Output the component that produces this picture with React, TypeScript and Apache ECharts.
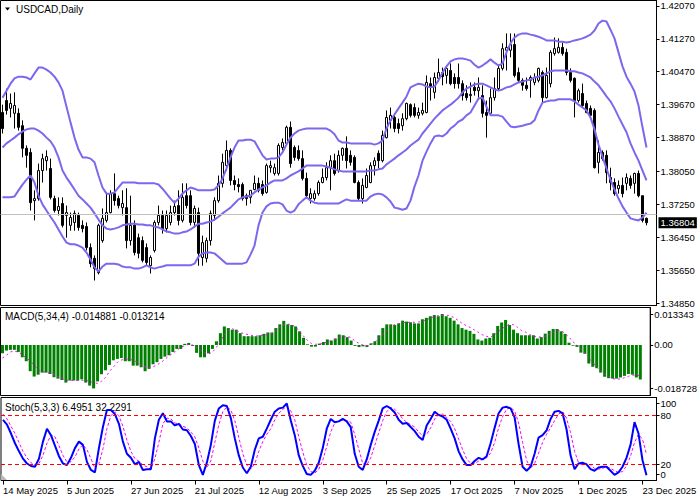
import React, { useEffect, useRef } from 'react';
import * as echarts from 'echarts';

const tickLabels = ['14 May 2025', '5 Jun 2025', '27 Jun 2025', '21 Jul 2025', '12 Aug 2025', '3 Sep 2025', '25 Sep 2025', '17 Oct 2025', '7 Nov 2025', '1 Dec 2025', '23 Dec 2025'];
const priceTicks = [1.4207, 1.4127, 1.4047, 1.3967, 1.3887, 1.3805, 1.3725, 1.3645, 1.3565, 1.3485];
const macdTicks = [0.013343, 0, -0.018728];
const stochTickPos = [95, 80, 20];
const stochZeroPos = [8];
const stochTickText: Record<number, string> = { 95: '100', 80: '80', 20: '20', 8: '0' };
const lastPrice = 1.36804;

const opens = [
  1.3948, 1.3977, 1.3958, 1.3946, 1.3946, 1.3916, 1.3861, 1.3851, 1.3734, 1.3739,
  1.3807, 1.3831, 1.3812, 1.3739, 1.3710, 1.3727, 1.3698, 1.3674, 1.3681, 1.3698,
  1.3674, 1.3671, 1.3620, 1.3594, 1.3559, 1.3637, 1.3686, 1.3705, 1.3751, 1.3739,
  1.3717, 1.3717, 1.3637, 1.3674, 1.3644, 1.3637, 1.3620, 1.3576, 1.3613, 1.3681,
  1.3698, 1.3666, 1.3681, 1.3705, 1.3722, 1.3686, 1.3746, 1.3746, 1.3681, 1.3705,
  1.3596, 1.3594, 1.3637, 1.3698, 1.3734, 1.3776, 1.3819, 1.3856, 1.3783, 1.3773,
  1.3773, 1.3746, 1.3742, 1.3761, 1.3776, 1.3773, 1.3754, 1.3814, 1.3800, 1.3800,
  1.3863, 1.3873, 1.3912, 1.3863, 1.3856, 1.3836, 1.3788, 1.3739, 1.3739, 1.3751,
  1.3778, 1.3790, 1.3814, 1.3831, 1.3807, 1.3844, 1.3861, 1.3844, 1.3839, 1.3778,
  1.3739, 1.3766, 1.3778, 1.3819, 1.3849, 1.3831, 1.3887, 1.3929, 1.3936, 1.3921,
  1.3916, 1.3933, 1.3967, 1.3960, 1.3941, 1.3946, 1.3948, 1.4018, 1.3997, 1.4031,
  1.4045, 1.4038, 1.4050, 1.4033, 1.4033, 1.4018, 1.3994, 1.3989, 1.4009, 1.4001,
  1.3989, 1.3948, 1.3946, 1.3984, 1.4006, 1.4055, 1.4099, 1.4099, 1.4113, 1.4045,
  1.4026, 1.4014, 1.4026, 1.4021, 1.4026, 1.4045, 1.3984, 1.4018, 1.4091, 1.4094,
  1.4106, 1.4094, 1.4045, 1.4031, 1.3977, 1.3994, 1.3970, 1.3958, 1.3953, 1.3827,
  1.3851, 1.3844, 1.3790, 1.3778, 1.3763, 1.3771, 1.3776, 1.3788, 1.3776, 1.3800,
  1.3746, 1.3691,
];
const closes = [
  1.3909, 1.3953, 1.3970, 1.3965, 1.3912, 1.3861, 1.3844, 1.3729, 1.3739, 1.3807,
  1.3836, 1.3841, 1.3742, 1.3710, 1.3720, 1.3674, 1.3705, 1.3693, 1.3703, 1.3669,
  1.3666, 1.3620, 1.3581, 1.3569, 1.3674, 1.3691, 1.3705, 1.3751, 1.3734, 1.3722,
  1.3727, 1.3637, 1.3674, 1.3608, 1.3606, 1.3589, 1.3584, 1.3596, 1.3681, 1.3698,
  1.3666, 1.3698, 1.3705, 1.3720, 1.3686, 1.3742, 1.3722, 1.3681, 1.3715, 1.3606,
  1.3632, 1.3637, 1.3703, 1.3734, 1.3776, 1.3827, 1.3856, 1.3783, 1.3773, 1.3768,
  1.3739, 1.3739, 1.3759, 1.3776, 1.3759, 1.3751, 1.3819, 1.3819, 1.3814, 1.3868,
  1.3875, 1.3912, 1.3824, 1.3839, 1.3836, 1.3788, 1.3746, 1.3751, 1.3751, 1.3778,
  1.3790, 1.3814, 1.3831, 1.3800, 1.3844, 1.3861, 1.3831, 1.3827, 1.3778, 1.3739,
  1.3771, 1.3795, 1.3819, 1.3831, 1.3831, 1.3892, 1.3936, 1.3941, 1.3909, 1.3909,
  1.3933, 1.3970, 1.3941, 1.3941, 1.3948, 1.3953, 1.4021, 1.4009, 1.4033, 1.4045,
  1.4035, 1.4055, 1.4018, 1.4018, 1.4018, 1.3989, 1.3984, 1.3992, 1.4001, 1.4009,
  1.3946, 1.3941, 1.3984, 1.4006, 1.4055, 1.4103, 1.4106, 1.4113, 1.4038, 1.4026,
  1.4014, 1.4006, 1.4033, 1.4033, 1.4055, 1.3984, 1.4038, 1.4094, 1.4103, 1.4106,
  1.4091, 1.4045, 1.4026, 1.3977, 1.4001, 1.3965, 1.3948, 1.3941, 1.3814, 1.3851,
  1.3836, 1.3802, 1.3778, 1.3751, 1.3771, 1.3751, 1.3790, 1.3771, 1.3800, 1.3746,
  1.3686, 1.36804,
];
const lows = [
  1.3897, 1.3943, 1.3936, 1.3909, 1.3904, 1.3839, 1.3814, 1.3710, 1.3686, 1.3734,
  1.3778, 1.3807, 1.3737, 1.3705, 1.3698, 1.3669, 1.3644, 1.3661, 1.3661, 1.3661,
  1.3657, 1.3613, 1.3572, 1.3540, 1.3555, 1.3632, 1.3681, 1.3703, 1.3722, 1.3715,
  1.3698, 1.3618, 1.3625, 1.3601, 1.3594, 1.3584, 1.3576, 1.3557, 1.3608, 1.3674,
  1.3654, 1.3657, 1.3674, 1.3698, 1.3674, 1.3681, 1.3715, 1.3674, 1.3669, 1.3576,
  1.3576, 1.3584, 1.3625, 1.3686, 1.3729, 1.3766, 1.3807, 1.3771, 1.3759, 1.3754,
  1.3734, 1.3722, 1.3727, 1.3759, 1.3754, 1.3746, 1.3751, 1.3802, 1.3795, 1.3795,
  1.3856, 1.3868, 1.3814, 1.3831, 1.3831, 1.3783, 1.3742, 1.3727, 1.3734, 1.3746,
  1.3776, 1.3783, 1.3759, 1.3795, 1.3802, 1.3831, 1.3812, 1.3819, 1.3776, 1.3734,
  1.3727, 1.3764, 1.3776, 1.3795, 1.3812, 1.3827, 1.3885, 1.3909, 1.3900, 1.3897,
  1.3904, 1.3929, 1.3936, 1.3936, 1.3933, 1.3941, 1.3946, 1.3977, 1.3982, 1.4026,
  1.4014, 1.4018, 1.4014, 1.4006, 1.4006, 1.3977, 1.3977, 1.3972, 1.3989, 1.3984,
  1.3936, 1.3887, 1.3941, 1.3977, 1.4001, 1.4050, 1.4050, 1.4082, 1.4033, 1.4021,
  1.4001, 1.4001, 1.3984, 1.4014, 1.4021, 1.3972, 1.3982, 1.4009, 1.4086, 1.4091,
  1.4086, 1.4038, 1.4021, 1.3936, 1.3972, 1.3960, 1.3946, 1.3933, 1.3812, 1.3800,
  1.3831, 1.3776, 1.3759, 1.3746, 1.3751, 1.3742, 1.3759, 1.3763, 1.3751, 1.3742,
  1.3681, 1.3674,
];
const highs = [
  1.3967, 1.4006, 1.3994, 1.3997, 1.3958, 1.3929, 1.3868, 1.3861, 1.3759, 1.3824,
  1.3848, 1.3856, 1.3836, 1.3746, 1.3742, 1.3742, 1.3722, 1.3705, 1.3710, 1.3705,
  1.3686, 1.3681, 1.3630, 1.3601, 1.3678, 1.3715, 1.3751, 1.3759, 1.3800, 1.3746,
  1.3759, 1.3764, 1.3746, 1.3686, 1.3654, 1.3647, 1.3630, 1.3601, 1.3686, 1.3722,
  1.3710, 1.3710, 1.3722, 1.3734, 1.3759, 1.3776, 1.3776, 1.3759, 1.3722, 1.3717,
  1.3649, 1.3644, 1.3710, 1.3742, 1.3795, 1.3848, 1.3880, 1.3861, 1.3795, 1.3788,
  1.3778, 1.3751, 1.3759, 1.3795, 1.3790, 1.3783, 1.3824, 1.3831, 1.3824, 1.3873,
  1.3885, 1.3916, 1.3926, 1.3868, 1.3868, 1.3856, 1.3802, 1.3764, 1.3759, 1.3783,
  1.3812, 1.3827, 1.3844, 1.3848, 1.3856, 1.3863, 1.3890, 1.3856, 1.3844, 1.3783,
  1.3788, 1.3812, 1.3827, 1.3839, 1.3856, 1.3904, 1.3953, 1.3960, 1.3946, 1.3933,
  1.3946, 1.3972, 1.3970, 1.3970, 1.3960, 1.3972, 1.4038, 1.4033, 1.4045, 1.4079,
  1.4057, 1.4062, 1.4067, 1.4043, 1.4067, 1.4026, 1.4014, 1.4021, 1.4021, 1.4033,
  1.4014, 1.3977, 1.4006, 1.4033, 1.4062, 1.4116, 1.4140, 1.4140, 1.4140, 1.4057,
  1.4031, 1.4033, 1.4038, 1.4043, 1.4057, 1.4050, 1.4057, 1.4099, 1.4130, 1.4128,
  1.4118, 1.4103, 1.4055, 1.4033, 1.4006, 1.4018, 1.3977, 1.3965, 1.3958, 1.3880,
  1.3856, 1.3856, 1.3814, 1.3788, 1.3783, 1.3790, 1.3800, 1.3795, 1.3802, 1.3807,
  1.3746, 1.3693,
];

const bbUpper = [
  1.3984, 1.4001, 1.4018, 1.4031, 1.4035, 1.4035, 1.4033, 1.4028, 1.4043, 1.4057,
  1.4057, 1.4052, 1.4045, 1.4035, 1.4021, 1.4001, 1.3962, 1.3924, 1.3887, 1.3858,
  1.3839, 1.3839, 1.3836, 1.3827, 1.3795, 1.3766, 1.3751, 1.3751, 1.3754, 1.3766,
  1.3778, 1.3778, 1.3778, 1.3778, 1.3776, 1.3776, 1.3776, 1.3776, 1.3776, 1.3773,
  1.3763, 1.3751, 1.3739, 1.3729, 1.3739, 1.3751, 1.3759, 1.3766, 1.3763, 1.3759,
  1.3759, 1.3759, 1.3759, 1.3761, 1.3771, 1.3788, 1.3812, 1.3839, 1.3863, 1.3880,
  1.3880, 1.3882, 1.3882, 1.3878, 1.3861, 1.3844, 1.3834, 1.3836, 1.3836, 1.3839,
  1.3851, 1.3870, 1.3887, 1.3897, 1.3904, 1.3907, 1.3909, 1.3909, 1.3909, 1.3909,
  1.3909, 1.3909, 1.3904, 1.3895, 1.3880, 1.3875, 1.3875, 1.3873, 1.3873, 1.3873,
  1.3873, 1.3873, 1.3873, 1.3870, 1.3873, 1.3880, 1.3909, 1.3929, 1.3943, 1.3958,
  1.3972, 1.3987, 1.4009, 1.4014, 1.4018, 1.4016, 1.4011, 1.4009, 1.4011, 1.4026,
  1.4045, 1.4060, 1.4072, 1.4077, 1.4079, 1.4079, 1.4077, 1.4074, 1.4064, 1.4057,
  1.4062, 1.4069, 1.4077, 1.4069, 1.4062, 1.4067, 1.4094, 1.4116, 1.4130, 1.4137,
  1.4140, 1.4140, 1.4137, 1.4135, 1.4132, 1.4128, 1.4123, 1.4123, 1.4123, 1.4120,
  1.4120, 1.4118, 1.4120, 1.4123, 1.4125, 1.4128, 1.4132, 1.4137, 1.4147, 1.4164,
  1.4171, 1.4169, 1.4149, 1.4128, 1.4094, 1.4060, 1.4035, 1.4018, 1.3999, 1.3965,
  1.3912, 1.3863,
];
const bbMiddle = [
  1.3863, 1.3873, 1.3880, 1.3887, 1.3895, 1.3902, 1.3907, 1.3909, 1.3909, 1.3904,
  1.3897, 1.3887, 1.3878, 1.3863, 1.3839, 1.3807, 1.3790, 1.3776, 1.3761, 1.3746,
  1.3737, 1.3727, 1.3717, 1.3703, 1.3688, 1.3674, 1.3666, 1.3664, 1.3666, 1.3669,
  1.3674, 1.3676, 1.3678, 1.3678, 1.3676, 1.3676, 1.3674, 1.3674, 1.3671, 1.3669,
  1.3664, 1.3659, 1.3657, 1.3654, 1.3654, 1.3657, 1.3659, 1.3664, 1.3671, 1.3678,
  1.3678, 1.3681, 1.3683, 1.3688, 1.3695, 1.3703, 1.3710, 1.3717, 1.3727, 1.3737,
  1.3742, 1.3744, 1.3746, 1.3754, 1.3761, 1.3766, 1.3771, 1.3778, 1.3783, 1.3783,
  1.3783, 1.3788, 1.3795, 1.3800, 1.3805, 1.3812, 1.3819, 1.3819, 1.3819, 1.3819,
  1.3819, 1.3817, 1.3814, 1.3810, 1.3807, 1.3805, 1.3805, 1.3805, 1.3805, 1.3805,
  1.3805, 1.3805, 1.3807, 1.3807, 1.3810, 1.3812, 1.3822, 1.3829, 1.3836, 1.3844,
  1.3851, 1.3858, 1.3868, 1.3875, 1.3882, 1.3897, 1.3909, 1.3921, 1.3933, 1.3943,
  1.3953, 1.3960, 1.3967, 1.3975, 1.3984, 1.3997, 1.4006, 1.4011, 1.4016, 1.4018,
  1.4018, 1.4014, 1.4009, 1.4004, 1.4001, 1.4004, 1.4009, 1.4011, 1.4016, 1.4021,
  1.4023, 1.4026, 1.4028, 1.4033, 1.4035, 1.4038, 1.4043, 1.4048, 1.4050, 1.4050,
  1.4050, 1.4050, 1.4048, 1.4048, 1.4045, 1.4043, 1.4038, 1.4033, 1.4023, 1.4014,
  1.4001, 1.3987, 1.3975, 1.3958, 1.3938, 1.3919, 1.3900, 1.3873, 1.3851, 1.3831,
  1.3807, 1.3783,
];
const bbLower = [
  1.3742, 1.3742, 1.3742, 1.3744, 1.3759, 1.3773, 1.3785, 1.3795, 1.3778, 1.3746,
  1.3725, 1.3710, 1.3695, 1.3681, 1.3664, 1.3647, 1.3632, 1.3628, 1.3628, 1.3625,
  1.3620, 1.3608, 1.3591, 1.3572, 1.3562, 1.3574, 1.3581, 1.3581, 1.3581, 1.3579,
  1.3574, 1.3572, 1.3572, 1.3569, 1.3569, 1.3572, 1.3577, 1.3572, 1.3569, 1.3572,
  1.3574, 1.3577, 1.3577, 1.3577, 1.3577, 1.3577, 1.3577, 1.3577, 1.3581, 1.3598,
  1.3606, 1.3608, 1.3608, 1.3606, 1.3598, 1.3589, 1.3581, 1.3581, 1.3581, 1.3581,
  1.3581, 1.3584, 1.3603, 1.3625, 1.3674, 1.3705, 1.3720, 1.3727, 1.3729, 1.3729,
  1.3725, 1.3710, 1.3705, 1.3710, 1.3725, 1.3734, 1.3742, 1.3734, 1.3729, 1.3727,
  1.3727, 1.3727, 1.3727, 1.3727, 1.3727, 1.3732, 1.3737, 1.3734, 1.3734, 1.3734,
  1.3734, 1.3734, 1.3744, 1.3749, 1.3751, 1.3749, 1.3742, 1.3732, 1.3717, 1.3715,
  1.3712, 1.3715, 1.3734, 1.3768, 1.3795, 1.3831, 1.3853, 1.3873, 1.3890, 1.3892,
  1.3890, 1.3897, 1.3909, 1.3916, 1.3926, 1.3931, 1.3941, 1.3948, 1.3965, 1.3982,
  1.3984, 1.3962, 1.3941, 1.3941, 1.3941, 1.3938, 1.3926, 1.3914, 1.3912, 1.3914,
  1.3916, 1.3919, 1.3921, 1.3929, 1.3953, 1.3972, 1.3975, 1.3977, 1.3977, 1.3980,
  1.3980, 1.3980, 1.3980, 1.3975, 1.3967, 1.3960, 1.3953, 1.3936, 1.3907, 1.3870,
  1.3841, 1.3812, 1.3785, 1.3761, 1.3739, 1.3720, 1.3705, 1.3691, 1.3688, 1.3686,
  1.3693, 1.3705,
];

const macdMain = [
  -0.0036, -0.0024, -0.0021, -0.0021, -0.0030, -0.0053, -0.0070, -0.0113, -0.0136, -0.0128,
  -0.0119, -0.0119, -0.0125, -0.0139, -0.0145, -0.0151, -0.0162, -0.0153, -0.0153, -0.0153,
  -0.0148, -0.0162, -0.0175, -0.018728, -0.0157, -0.0126, -0.0109, -0.0086, -0.0066, -0.0060,
  -0.0056, -0.0070, -0.0070, -0.0089, -0.0089, -0.0096, -0.0113, -0.0103, -0.0083, -0.0074,
  -0.0060, -0.0050, -0.0044, -0.0030, -0.0017, -0.0017, 0.0005, 0.0009, -0.0004, -0.0034,
  -0.0053, -0.0053, -0.0036, -0.0017, 0.0016, 0.0051, 0.0080, 0.0073, 0.0066, 0.0066,
  0.0051, 0.0038, 0.0038, 0.0038, 0.0038, 0.0042, 0.0048, 0.0054, 0.0054, 0.0073,
  0.0089, 0.0104, 0.0089, 0.0086, 0.0080, 0.0059, 0.0031, 0.0003, -0.0007, -0.0007,
  0.0006, 0.0013, 0.0024, 0.0019, 0.0028, 0.0045, 0.0042, 0.0034, 0.0019, -0.0004,
  -0.0009, -0.0006, -0.0009, 0.0007, 0.0016, 0.0042, 0.0073, 0.0089, 0.0089, 0.0086,
  0.0093, 0.0105, 0.0101, 0.0098, 0.0093, 0.0093, 0.0111, 0.0117, 0.0124, 0.0129,
  0.0124, 0.013343, 0.0124, 0.0117, 0.0105, 0.0089, 0.0073, 0.0066, 0.0061, 0.0048,
  0.0024, 0.0019, 0.0028, 0.0031, 0.0051, 0.0082, 0.0097, 0.0108, 0.0086, 0.0066,
  0.0051, 0.0042, 0.0042, 0.0042, 0.0042, 0.0028, 0.0034, 0.0049, 0.0061, 0.0069,
  0.0069, 0.0059, 0.0048, 0.0010, -0.0003, -0.0008, -0.0033, -0.0038, -0.0080, -0.0094,
  -0.0100, -0.0119, -0.0137, -0.0143, -0.0145, -0.0145, -0.0140, -0.0133, -0.0125, -0.0128,
  -0.0140, -0.014881,
];
const macdSignal = [
  -0.0056, -0.0044, -0.0030, -0.0026, -0.0031, -0.0042, -0.0056, -0.0069, -0.0086, -0.0107,
  -0.0114, -0.0118, -0.0121, -0.0127, -0.0135, -0.0143, -0.0150, -0.0153, -0.0153, -0.0153,
  -0.0152, -0.0153, -0.0156, -0.0164, -0.0165, -0.0156, -0.0140, -0.0114, -0.0095, -0.0075,
  -0.0065, -0.0060, -0.0062, -0.0065, -0.0075, -0.0086, -0.0095, -0.0099, -0.0094, -0.0086,
  -0.0075, -0.0062, -0.0047, -0.0036, -0.0023, -0.0010, -0.0003, 0.0003, 0.0000, -0.0010,
  -0.0023, -0.0033, -0.0039, -0.0031, -0.0010, 0.0017, 0.0045, 0.0062, 0.0070, 0.0063,
  0.0055, 0.0048, 0.0045, 0.0041, 0.0038, 0.0041, 0.0043, 0.0045, 0.0050, 0.0062,
  0.0077, 0.0087, 0.0090, 0.0087, 0.0077, 0.0059, 0.0038, 0.0020, 0.0006, 0.0003,
  0.0004, 0.0006, 0.0014, 0.0018, 0.0025, 0.0031, 0.0034, 0.0038, 0.0031, 0.0017,
  0.0007, 0.0000, -0.0004, 0.0001, 0.0013, 0.0028, 0.0048, 0.0062, 0.0080, 0.0088,
  0.0092, 0.0095, 0.0098, 0.0098, 0.0098, 0.0099, 0.0102, 0.0108, 0.0116, 0.0122,
  0.0126, 0.0129, 0.0129, 0.0126, 0.0118, 0.0106, 0.0094, 0.0084, 0.0076, 0.0066,
  0.0056, 0.0045, 0.0038, 0.0034, 0.0041, 0.0055, 0.0070, 0.0080, 0.0090, 0.0087,
  0.0076, 0.0062, 0.0056, 0.0045, 0.0039, 0.0035, 0.0034, 0.0038, 0.0045, 0.0055,
  0.0062, 0.0062, 0.0050, 0.0034, 0.0014, 0.0000, -0.0016, -0.0035, -0.0054, -0.0075,
  -0.0095, -0.0110, -0.0125, -0.0135, -0.0145, -0.0148, -0.0146, -0.0141, -0.0135, -0.0130,
  -0.0130, -0.013214,
];

const stochMain = [
  75, 69, 58, 46, 36, 27, 21, 18, 17, 27,
  48, 64, 56, 43, 30, 21, 19, 28, 40, 48,
  44, 23, 13, 10, 40, 66, 87, 87, 82, 70,
  48, 33, 28, 20, 23, 13, 14, 14, 52, 75,
  83, 73, 73, 68, 70, 63, 62, 55, 45, 19,
  7, 22, 44, 74, 89, 93, 92, 77, 52, 31,
  16, 9, 17, 38, 52, 54, 64, 75, 85, 89,
  90, 95, 74, 56, 31, 18, 8, 7, 12, 22,
  40, 64, 76, 72, 73, 76, 73, 66, 33, 17,
  13, 26, 44, 60, 74, 89, 92, 89, 84, 75,
  70, 71, 66, 61, 54, 50, 68, 76, 85, 81,
  79, 75, 64, 52, 36, 26, 19, 19, 24, 28,
  26, 30, 46, 65, 83, 90, 91, 89, 78, 45,
  17, 12, 17, 33, 53, 56, 62, 76, 85, 86,
  83, 63, 31, 14, 21, 22, 20, 14, 12, 16,
  17, 17, 12, 7, 10, 17, 28, 44, 72, 58,
  25, 6.4951,
];
const stochSignal = [
  82, 76, 67, 58, 47, 36, 28, 22, 19, 21,
  31, 46, 56, 54, 43, 31, 23, 23, 29, 39,
  44, 38, 27, 15, 21, 39, 64, 80, 85, 80,
  67, 50, 36, 27, 24, 19, 17, 14, 27, 47,
  70, 77, 76, 71, 70, 67, 65, 60, 54, 40,
  24, 16, 24, 47, 69, 85, 91, 87, 74, 53,
  33, 19, 14, 21, 36, 48, 57, 64, 75, 83,
  88, 91, 86, 75, 54, 35, 19, 11, 9, 14,
  25, 42, 60, 71, 74, 74, 74, 72, 57, 39,
  21, 19, 28, 43, 59, 74, 85, 90, 88, 83,
  76, 72, 69, 66, 60, 55, 57, 65, 76, 81,
  82, 78, 73, 64, 51, 38, 27, 21, 21, 24,
  26, 28, 34, 47, 65, 79, 88, 90, 86, 71,
  47, 25, 15, 21, 34, 47, 57, 65, 74, 82,
  85, 77, 59, 36, 22, 19, 21, 19, 15, 14,
  15, 17, 15, 12, 10, 11, 18, 30, 47, 57,
  51, 32.2291,
];

const SLOTS = 164;
const categories = Array.from({ length: SLOTS }, (_, i) => String(i));

export default function App() {
  const ref = useRef<HTMLDivElement>(null);
  useEffect(() => {
    if (!ref.current) return;
    const chart = echarts.init(ref.current, null, { renderer: 'svg' });
    const font = 'Liberation Sans';
    const fs = 9.5;
    const candleData = opens.map((o, i) => [o, closes[i], lows[i], highs[i]]);
    const gridBase = { left: 0.5, width: 656, show: true, borderColor: '#000', borderWidth: 1, backgroundColor: '#fff' };
    const hiddenX = (gi: number) => ({ type: 'category', gridIndex: gi, data: categories, boundaryGap: true, show: false });
    const yBase = {
      position: 'right',
      splitLine: { show: false },
      axisLine: { show: true, lineStyle: { color: '#000', width: 1 } },
    };
    const option: any = {
      animation: false,
      backgroundColor: '#fff',
      grid: [
        { ...gridBase, top: 0.5, height: 305 },
        { ...gridBase, top: 307.5, height: 88 },
        { ...gridBase, top: 397.5, height: 83 },
      ],
      xAxis: [
        hiddenX(0),
        hiddenX(1),
        {
          type: 'category', gridIndex: 2, data: categories, boundaryGap: true,
          axisLine: { show: false },
          axisTick: { show: true, interval: 15, alignWithLabel: true, length: 4, lineStyle: { color: '#000' } },
          axisLabel: {
            interval: 15, align: 'left', margin: 5, fontSize: fs, color: '#000', fontFamily: font,
            formatter: (_v: string, idx: number) => (idx % 16 === 0 ? tickLabels[idx / 16] ?? '' : ''),
          },
        },
      ],
      yAxis: [
        {
          ...yBase, type: 'value', gridIndex: 0, min: 1.34794, max: 1.42199,
          axisTick: { show: true, length: 3, customValues: priceTicks, lineStyle: { color: '#000' } },
          axisLabel: { customValues: priceTicks, formatter: (v: number) => v.toFixed(5), fontSize: fs, color: '#000', margin: 4, fontFamily: font },
        },
        {
          ...yBase, type: 'value', gridIndex: 1, min: -0.02177, max: 0.01616,
          axisTick: { show: true, length: 3, customValues: macdTicks, lineStyle: { color: '#000' } },
          axisLabel: { customValues: macdTicks, formatter: (v: number) => (Math.abs(v) < 1e-9 ? '0.00' : v.toFixed(6)), fontSize: fs, color: '#000', margin: 4, fontFamily: font },
        },
        {
          ...yBase, type: 'value', gridIndex: 2, min: 0, max: 102.5,
          axisTick: { show: true, length: 3, customValues: stochTickPos, lineStyle: { color: '#000' } },
          axisLabel: {
            customValues: stochTickPos, formatter: (v: number) => stochTickText[v] ?? '', fontSize: fs, color: '#000',
            margin: 4, fontFamily: font,
          },
        },
        {
          type: 'value', gridIndex: 0, position: 'right', min: 1.34794, max: 1.42199,
          splitLine: { show: false }, axisLine: { show: false }, axisTick: { show: false },
          axisLabel: {
            customValues: [lastPrice], formatter: (v: number) => v.toFixed(5), fontSize: fs, color: '#fff', fontFamily: font,
            backgroundColor: '#000', padding: [1, 2, 0, 2], margin: 2,
          },
        },
        {
          type: 'value', gridIndex: 2, position: 'right', min: 0, max: 102.5,
          splitLine: { show: false }, axisLine: { show: false },
          axisTick: { show: true, length: 3, customValues: stochZeroPos, lineStyle: { color: '#000' } },
          axisLabel: {
            customValues: stochZeroPos, formatter: (v: number) => stochTickText[v] ?? '', fontSize: fs, color: '#000',
            margin: 4, fontFamily: font,
          },
        },
      ],
      series: [
        {
          type: 'candlestick', xAxisIndex: 0, yAxisIndex: 0, data: candleData, barWidth: 3,
          itemStyle: { color: '#fff', color0: '#000', borderColor: '#000', borderColor0: '#000', borderWidth: 1 },
          markLine: {
            silent: true, symbol: ['none', 'none'], animation: false,
            data: [{ yAxis: lastPrice }],
            lineStyle: { color: '#c0c0c0', width: 1, type: 'solid' },
            label: { show: false },
          },
        },
        ...[bbUpper, bbMiddle, bbLower].map((d) => ({
          type: 'line', xAxisIndex: 0, yAxisIndex: 0, data: d, showSymbol: false, symbol: 'none',
          lineStyle: { color: '#7B68EE', width: 2 }, z: 3,
        })),
        {
          type: 'bar', xAxisIndex: 1, yAxisIndex: 1, data: macdMain, barWidth: 3,
          itemStyle: { color: '#008000' },
        },
        {
          type: 'line', xAxisIndex: 1, yAxisIndex: 1, data: macdSignal, showSymbol: false, symbol: 'none',
          lineStyle: { color: '#ff00ff', width: 1, type: [2, 3] }, z: 3,
        },
        {
          type: 'line', xAxisIndex: 2, yAxisIndex: 2, data: stochSignal, showSymbol: false, symbol: 'none',
          lineStyle: { color: '#ff00ff', width: 1, type: [3, 2] },
          markLine: {
            silent: true, symbol: ['none', 'none'], animation: false,
            data: [{ yAxis: 80 }, { yAxis: 20 }],
            lineStyle: { color: '#ff0000', width: 1, type: [4, 3] },
            label: { show: false },
          },
        },
        {
          type: 'line', xAxisIndex: 2, yAxisIndex: 2, data: stochMain, showSymbol: false, symbol: 'none',
          lineStyle: { color: '#0000ff', width: 2 }, z: 4,
        },
      ],
      graphic: [
        { type: 'polygon', shape: { points: [[5, 7.5], [10, 7.5], [7.5, 10.5]] }, style: { fill: '#000' } },
        { type: 'text', x: 16, y: 9, style: { text: 'USDCAD,Daily', fontSize: 10, fontFamily: font, fill: '#000', verticalAlign: 'middle' } },
        { type: 'text', x: 5, y: 316, style: { text: 'MACD(5,34,4) -0.014881 -0.013214', fontSize: 10, fontFamily: font, fill: '#000', verticalAlign: 'middle' } },
        { type: 'text', x: 5, y: 407, style: { text: 'Stoch(5,3,3) 6.4951 32.2291', fontSize: 10, fontFamily: font, fill: '#000', verticalAlign: 'middle' } },
        { type: 'polygon', shape: { points: [[1, 474], [1, 480], [7, 480]] }, style: { fill: '#b8b8b8' } },
      ],
    };
    chart.setOption(option);
    return () => chart.dispose();
  }, []);
  return <div ref={ref} style={{ position: 'absolute', left: 0, top: 0, width: 700, height: 500 }} />;
}
